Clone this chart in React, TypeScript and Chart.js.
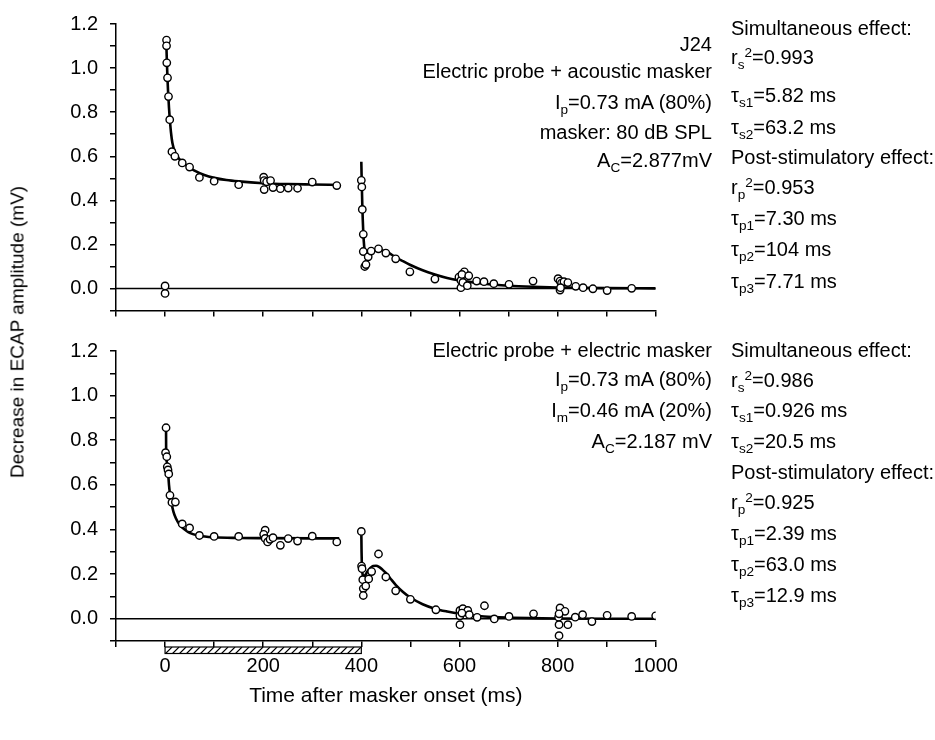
import React, { useEffect, useRef } from "react";
import { Chart, registerables } from "chart.js";

Chart.register(...registerables);

const FONT = "'Liberation Sans', Arial, Helvetica, sans-serif";
const FS = 20;

// ---------- top panel: electric probe + acoustic masker ----------
const topSimT = [3, 3, 3.5, 5, 7, 9.5, 14, 20, 35, 50, 70, 100, 150, 201, 202, 207, 215, 202, 220, 235, 251, 270, 300, 350];
const topSimV = [1.127, 1.101, 1.024, 0.956, 0.871, 0.766, 0.621, 0.6, 0.57, 0.551, 0.504, 0.487, 0.471, 0.505, 0.49, 0.484, 0.49, 0.449, 0.458, 0.453, 0.456, 0.455, 0.483, 0.467];
const topZeroT = [0, 0];
const topZeroV = [0.012, -0.022];
const topPostT = [400, 401, 402, 404, 404, 407, 409.5, 414, 420, 435, 450, 470, 499, 550, 599, 603, 610, 605, 619, 603, 607, 616, 635, 650, 670, 701, 750, 801, 805, 808, 813, 821, 805, 806, 837, 852, 872, 901, 951];
const topPostV = [0.491, 0.461, 0.359, 0.246, 0.168, 0.1, 0.109, 0.144, 0.17, 0.18, 0.161, 0.135, 0.076, 0.043, 0.052, 0.037, 0.076, 0.064, 0.058, 0.004, 0.028, 0.013, 0.034, 0.031, 0.022, 0.019, 0.034, 0.045, 0.034, 0.025, 0.031, 0.027, -0.007, 0.004, 0.01, 0.004, -0.001, -0.009, 0.001];
const topSimFitT = [2, 3, 4, 5, 6, 7, 8, 10, 12, 15, 20, 25, 30, 40, 50, 60, 80, 100, 125, 150, 200, 250, 300, 356];
const topSimFitV = [1.14, 1.08, 1.01, 0.95, 0.9, 0.86, 0.82, 0.76, 0.71, 0.66, 0.62, 0.6, 0.585, 0.565, 0.548, 0.535, 0.515, 0.502, 0.492, 0.486, 0.478, 0.474, 0.472, 0.47];
const topPostFitT = [400, 400.5, 401, 402, 403, 404, 405, 407, 409, 412, 416, 420, 428, 436, 445, 455, 470, 485, 500, 525, 550, 575, 600, 650, 700, 750, 800, 900, 1000];
const topPostFitV = [0.575, 0.52, 0.47, 0.38, 0.31, 0.255, 0.215, 0.165, 0.14, 0.135, 0.145, 0.158, 0.172, 0.176, 0.172, 0.163, 0.142, 0.124, 0.107, 0.083, 0.064, 0.048, 0.037, 0.022, 0.013, 0.008, 0.005, 0.002, 0.001];

// ---------- bottom panel: electric probe + electric masker ----------
const botSimT = [2, 1, 3.5, 4.5, 6, 7.5, 10, 14, 21, 35, 50, 70, 100, 150, 204, 201, 204, 209, 214, 220, 235, 251, 270, 300, 350];
const botSimV = [0.856, 0.744, 0.726, 0.681, 0.667, 0.649, 0.553, 0.521, 0.523, 0.425, 0.407, 0.373, 0.369, 0.369, 0.397, 0.378, 0.36, 0.344, 0.356, 0.363, 0.329, 0.359, 0.348, 0.37, 0.344];
const botPostT = [400, 400.5, 401.5, 403, 404, 404, 409, 415, 421, 435, 450, 470, 500, 552, 601, 607, 617, 620, 601, 605, 601, 636, 651, 671, 701, 751, 805, 815, 802, 803, 803, 821, 803, 836, 851, 870, 901, 951, 1000];
const botPostV = [0.391, 0.236, 0.224, 0.175, 0.135, 0.104, 0.146, 0.178, 0.211, 0.29, 0.187, 0.125, 0.087, 0.04, 0.037, 0.045, 0.037, 0.018, 0.013, 0.025, -0.027, 0.006, 0.058, -0.001, 0.01, 0.022, 0.048, 0.033, 0.007, 0.022, -0.027, -0.027, -0.076, 0.007, 0.018, -0.013, 0.015, 0.01, 0.013];
const botSimFitT = [2, 2.2, 4, 6, 8, 10, 13, 17, 22, 30, 40, 50, 70, 100, 150, 200, 300, 355];
const botSimFitV = [0.86, 0.74, 0.7, 0.66, 0.6, 0.56, 0.52, 0.48, 0.45, 0.42, 0.4, 0.385, 0.372, 0.365, 0.362, 0.361, 0.36, 0.36];
const botPostFitT = [400, 400.5, 401, 402, 403, 405, 408, 412, 418, 424, 430, 436, 443, 450, 460, 470, 485, 500, 525, 550, 575, 600, 650, 700, 800, 900, 1000];
const botPostFitV = [0.39, 0.3, 0.25, 0.21, 0.195, 0.19, 0.195, 0.21, 0.226, 0.236, 0.237, 0.232, 0.22, 0.205, 0.178, 0.152, 0.12, 0.095, 0.065, 0.045, 0.032, 0.022, 0.01, 0.005, 0.001, 0, 0];

// ---------- shared ----------
const zeroLineT = [-100, 1000];
const zeroLineV = [0, 0];
const maskerInterval = [0, 400];
const xRange = [-100, 1000];
const yRange = [-0.1, 1.2];

const pts = (t: number[], v: number[]) => t.map((x, i) => ({ x, y: v[i] }));

const markerDs = (t: number[], v: number[]) => ({
  data: pts(t, v),
  showLine: false,
  pointRadius: 3.7,
  pointBorderWidth: 1.4,
  pointBackgroundColor: "#fff",
  pointBorderColor: "#000",
  order: 0,
});
const fitDs = (t: number[], v: number[]) => ({
  data: pts(t, v),
  showLine: true,
  borderColor: "#000",
  borderWidth: 2.6,
  pointRadius: 0,
  cubicInterpolationMode: "monotone",
  fill: false,
  order: 1,
});
const zeroDs = () => ({
  data: pts(zeroLineT, zeroLineV),
  showLine: true,
  borderColor: "#000",
  borderWidth: 1.4,
  pointRadius: 0,
  fill: false,
  order: 2,
});

const hatchPlugin = {
  id: "maskerBar",
  afterDraw(chart: any) {
    const { ctx, chartArea, scales } = chart;
    const x0 = scales.x.getPixelForValue(maskerInterval[0]);
    const x1 = scales.x.getPixelForValue(maskerInterval[1]);
    const y0 = chartArea.bottom + 6;
    const h = 6.5;
    ctx.save();
    ctx.beginPath();
    ctx.rect(x0, y0, x1 - x0, h);
    ctx.clip();
    ctx.beginPath();
    ctx.strokeStyle = "#000";
    ctx.lineWidth = 1.1;
    for (let x = x0 - h; x < x1 + h; x += 7) {
      ctx.moveTo(x, y0 + h);
      ctx.lineTo(x + h, y0);
    }
    ctx.stroke();
    ctx.restore();
    ctx.save();
    ctx.strokeStyle = "#000";
    ctx.lineWidth = 1.2;
    ctx.strokeRect(x0, y0, x1 - x0, h);
    ctx.restore();
  },
};

function makeConfig(datasets: any[], bottom: boolean, canvasH: number, areaTop: number, areaBottom: number): any {
  const font = { family: FONT, size: FS };
  return {
    type: "scatter",
    data: { datasets },
    plugins: bottom ? [hatchPlugin] : [],
    options: {
      animation: false,
      responsive: false,
      maintainAspectRatio: false,
      layout: { padding: { left: 0, top: areaTop, right: 935 - 655.7, bottom: 0 } },
      plugins: { legend: { display: false }, tooltip: { enabled: false } },
      scales: {
        x: {
          type: "linear",
          min: xRange[0],
          max: xRange[1],
          afterFit: (s: any) => {
            s.height = canvasH - areaBottom;
          },
          ticks: {
            display: bottom,
            stepSize: 100,
            autoSkip: false,
            maxRotation: 0,
            padding: 7,
            color: "#000",
            font,
            callback: (v: any) => (Number(v) % 200 === 0 ? String(v) : ""),
          },
          grid: { drawOnChartArea: false, drawTicks: true, tickLength: 6, color: "#000", lineWidth: 1.5 },
          border: { display: true, color: "#000", width: 1.5 },
          title: bottom
            ? { display: true, text: "Time after masker onset (ms)", color: "#000", font: { family: FONT, size: 21 }, padding: { top: 0, bottom: 31 } }
            : { display: false },
        },
        y: {
          type: "linear",
          min: yRange[0],
          max: yRange[1],
          afterFit: (s: any) => {
            s.width = 116;
          },
          ticks: {
            stepSize: 0.1,
            autoSkip: false,
            padding: 12,
            color: "#000",
            font,
            callback: (v: any) => {
              const k = Math.round(Number(v) * 10);
              return k % 2 === 0 ? (k / 10).toFixed(1) : "";
            },
          },
          grid: { drawOnChartArea: false, drawTicks: true, tickLength: 6, color: "#000", lineWidth: 1.5 },
          border: { display: true, color: "#000", width: 1.5 },
        },
      },
    },
  };
}

const Sub = ({ c }: { c: string }) => (
  <span style={{ fontSize: "0.68em", position: "relative", top: "0.4em" }}>{c}</span>
);
const Sup = ({ c }: { c: string }) => (
  <span style={{ fontSize: "0.68em", position: "relative", top: "-0.5em" }}>{c}</span>
);

function Label({ x, y, right, children }: { x: number; y: number; right?: boolean; children: any }) {
  const style: any = {
    position: "absolute",
    top: y,
    whiteSpace: "nowrap",
    lineHeight: 1,
    transform: "translateY(-50%)",
    fontFamily: FONT,
    fontSize: FS,
    color: "#000",
  };
  if (right) style.right = 935 - x;
  else style.left = x;
  return <div style={style}>{children}</div>;
}

const COLX = 731;
const ANNX = 712;

export default function App() {
  const topRef = useRef<HTMLCanvasElement>(null);
  const botRef = useRef<HTMLCanvasElement>(null);

  useEffect(() => {
    const topChart = new Chart(
      topRef.current as HTMLCanvasElement,
      makeConfig(
        [
          markerDs(topSimT, topSimV),
          markerDs(topZeroT, topZeroV),
          markerDs(topPostT, topPostV),
          fitDs(topSimFitT, topSimFitV),
          fitDs(topPostFitT, topPostFitV),
          zeroDs(),
        ],
        false,
        335,
        19.3,
        310.6
      )
    );
    const botChart = new Chart(
      botRef.current as HTMLCanvasElement,
      makeConfig(
        [
          markerDs(botSimT, botSimV),
          markerDs(botPostT, botPostV),
          fitDs(botSimFitT, botSimFitV),
          fitDs(botPostFitT, botPostFitV),
          zeroDs(),
        ],
        true,
        415,
        26,
        316
      )
    );
    return () => {
      topChart.destroy();
      botChart.destroy();
    };
  }, []);

  return (
    <div style={{ position: "absolute", left: 0, top: 0, width: 935, height: 740, background: "#fff", overflow: "hidden" }}>
      <canvas ref={topRef} width={935} height={335} style={{ position: "absolute", left: 0, top: 0 }} />
      <canvas ref={botRef} width={935} height={415} style={{ position: "absolute", left: 0, top: 325 }} />

      <div
        style={{
          position: "absolute",
          left: 17,
          top: 332,
          transform: "translate(-50%, -50%) rotate(-90deg)",
          whiteSpace: "nowrap",
          lineHeight: 1,
          fontFamily: FONT,
          fontSize: 19,
          color: "#000",
        }}
      >
        Decrease in ECAP amplitude (mV)
      </div>

      {/* top panel annotations */}
      <Label x={ANNX} y={44} right>J24</Label>
      <Label x={ANNX} y={71} right>Electric probe + acoustic masker</Label>
      <Label x={ANNX} y={102} right>I<Sub c="p" />=0.73 mA (80%)</Label>
      <Label x={ANNX} y={132} right>masker: 80 dB SPL</Label>
      <Label x={ANNX} y={160} right>A<Sub c="C" />=2.877mV</Label>

      <Label x={COLX} y={28}>Simultaneous effect:</Label>
      <Label x={COLX} y={57}>r<Sub c="s" /><Sup c="2" />=0.993</Label>
      <Label x={COLX} y={95}>τ<Sub c="s1" />=5.82 ms</Label>
      <Label x={COLX} y={127}>τ<Sub c="s2" />=63.2 ms</Label>
      <Label x={COLX} y={157}>Post-stimulatory effect:</Label>
      <Label x={COLX} y={187}>r<Sub c="p" /><Sup c="2" />=0.953</Label>
      <Label x={COLX} y={218}>τ<Sub c="p1" />=7.30 ms</Label>
      <Label x={COLX} y={249}>τ<Sub c="p2" />=104 ms</Label>
      <Label x={COLX} y={281}>τ<Sub c="p3" />=7.71 ms</Label>

      {/* bottom panel annotations */}
      <Label x={ANNX} y={350} right>Electric probe + electric masker</Label>
      <Label x={ANNX} y={379} right>I<Sub c="p" />=0.73 mA (80%)</Label>
      <Label x={ANNX} y={410} right>I<Sub c="m" />=0.46 mA (20%)</Label>
      <Label x={ANNX} y={441} right>A<Sub c="C" />=2.187 mV</Label>

      <Label x={COLX} y={350}>Simultaneous effect:</Label>
      <Label x={COLX} y={380}>r<Sub c="s" /><Sup c="2" />=0.986</Label>
      <Label x={COLX} y={410}>τ<Sub c="s1" />=0.926 ms</Label>
      <Label x={COLX} y={441}>τ<Sub c="s2" />=20.5 ms</Label>
      <Label x={COLX} y={472}>Post-stimulatory effect:</Label>
      <Label x={COLX} y={502}>r<Sub c="p" /><Sup c="2" />=0.925</Label>
      <Label x={COLX} y={533}>τ<Sub c="p1" />=2.39 ms</Label>
      <Label x={COLX} y={564}>τ<Sub c="p2" />=63.0 ms</Label>
      <Label x={COLX} y={595}>τ<Sub c="p3" />=12.9 ms</Label>
    </div>
  );
}
